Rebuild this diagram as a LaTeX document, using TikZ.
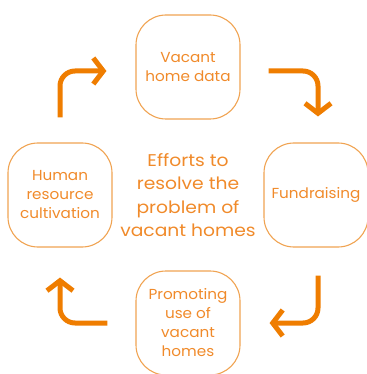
\documentclass[tikz,border=0pt]{standalone}
\usepackage{fontspec}
\setmainfont{Poppins}
\newfontfamily\boxfont[FakeStretch=1.05]{Poppins}
\newfontfamily\widefont[FakeStretch=1.1]{Poppins}
\usepackage{tikz}
\usetikzlibrary{arrows.meta, positioning}
\definecolor{vhorange}{HTML}{EF7D00}
\definecolor{vhtext}{HTML}{F08A2A}
\definecolor{vhline}{HTML}{F0A352}

\begin{document}
\begin{tikzpicture}[node distance=128pt, auto,
    stepbox/.style={draw=vhline, line width=1.1pt, rectangle, rounded corners=30pt,
      minimum width=104pt, minimum height=104pt, align=center, text=vhtext,
      font=\boxfont\fontsize{14.5}{19}\selectfont},
    cycle/.style={draw=vhorange, line width=5pt, rounded corners=15pt,
      -{Straight Barb[length=10pt, width=26pt]}}]
        \useasboundingbox (0pt,0pt) rectangle (366pt,-374pt);
        % Nodes
        \node[align=center, text=vhtext, font=\widefont\fontsize{17}{23.5}\selectfont] (Efforts) at (188pt,-195pt) {Efforts to\\resolve the\\problem of\\vacant homes};
        \node[stepbox, above=of Efforts.center, anchor=center] (Data) {Vacant\\home data};
        \node[stepbox, right=of Efforts.center, anchor=center] (Funds) {Fundraising};
        \node[stepbox, below=of Efforts.center, anchor=center] (Promote) {Promoting\\use of\\vacant\\homes};
        \node[stepbox, left=of Efforts.center, anchor=center] (Human) {Human\\resource\\cultivation};
        % Arrows
        \draw[cycle, shorten <=25pt, shorten >=29pt] (Human.north) |- ([yshift=-4pt]Data.west);
        \draw[cycle, shorten <=28pt, shorten >=26pt] ([yshift=-4pt]Data.east) -| ([xshift=2pt]Funds.north);
        \draw[cycle, shorten <=28pt, shorten >=29pt] ([xshift=2pt]Funds.south) |- (Promote.east);
        \draw[cycle, shorten <=28pt, shorten >=30pt] (Promote.west) -| (Human.south);
    \end{tikzpicture}
\end{document}
